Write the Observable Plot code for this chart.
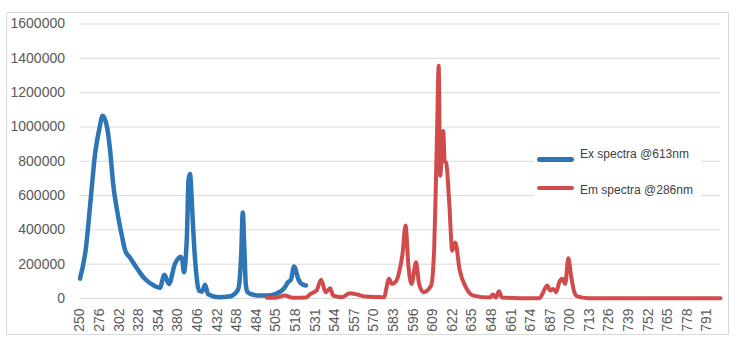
<!DOCTYPE html>
<html>
<head>
<meta charset="utf-8">
<script src="https://cdn.jsdelivr.net/npm/d3@7"></script>
<script src="https://cdn.jsdelivr.net/npm/@observablehq/plot@0.6"></script>
<style>
  body { margin: 0; background: #fff; }
  #wrap { position: relative; width: 740px; height: 352px; overflow: hidden; font-family: "Liberation Sans", Arial, sans-serif; }
  #frame { position: absolute; left: 6px; top: 12px; width: 723px; height: 323px; border: 1px solid #d9d9d9; box-sizing: border-box; }
  #chart { position: absolute; left: 0; top: 0; }
  #legend { position: absolute; left: 534px; top: 141px; width: 167px; height: 64px; background: #fff; }
  .sw { position: absolute; left: 3px; width: 37px; border-radius: 3px; }
  .lt { position: absolute; left: 46px; font-size: 12px; line-height: 14px; color: #404040; white-space: nowrap; }
</style>
</head>
<body>
<div id="wrap">
  <div id="frame"></div>
  <div id="chart"></div>
  <div id="legend">
    <div class="sw" id="sw-ex" style="top:15.5px;height:5px;"></div>
    <div class="lt" id="lt-ex" style="top:6px;"></div>
    <div class="sw" id="sw-em" style="top:45px;height:4px;"></div>
    <div class="lt" id="lt-em" style="top:41.5px;"></div>
  </div>
</div>
<script>
// Category axis: 250..500 in steps of 2, then 501..800 in steps of 1
const tickLabels = [250, 276, 302, 328, 354, 380, 406, 432, 458, 484, 505, 518, 531, 544, 557, 570, 583, 596, 609, 622, 635, 648, 661, 674, 687, 700, 713, 726, 739, 752, 765, 778, 791];
const seriesNames = ["Ex spectra @613nm", "Em spectra @286nm"];
const seriesColors = ["#2E75B6", "#D24B4B"];

// Ex spectrum (category label, intensity)
const exWave  = [250, 258, 264, 270, 276, 280, 286, 290, 294, 300, 306, 310, 316, 326, 336, 348, 356, 362, 368, 376, 384, 386, 388, 390, 392, 394, 396, 398, 400, 402, 404, 406, 408, 412, 416, 420, 434, 448, 456, 460, 464, 466, 468, 470, 472, 476, 488, 498, 505, 511, 513, 515, 517, 520, 522, 525];
const exValue = [116000, 299000, 570000, 843000, 997000, 1065000, 997000, 861000, 667000, 493000, 357000, 279000, 240000, 173000, 115000, 76000, 62000, 138000, 85000, 202000, 244000, 215000, 153000, 220000, 376000, 690000, 725000, 600000, 420000, 270000, 160000, 80000, 45000, 40000, 80000, 25000, 8000, 12000, 30000, 55000, 260000, 502000, 300000, 85000, 40000, 27000, 17000, 17000, 27000, 66000, 95000, 110000, 186000, 110000, 85000, 76000];

// Em spectrum (category label, intensity)
const emWave  = [498, 505, 511, 516, 525, 528, 532, 535, 538, 541, 543, 549, 554, 559, 564, 577, 578, 580, 582, 585, 587, 589, 591, 593, 595, 598, 600, 603, 608, 610, 611, 612, 613, 614, 616, 617, 618, 620, 622, 624, 627, 631, 636, 647, 649, 651, 653, 655, 667, 680, 682, 685, 687, 689, 691, 693, 695, 697, 699, 701, 703, 705, 712, 800];
const emValue = [4000, 5000, 17000, 4000, 6000, 27000, 47000, 109000, 37000, 60000, 17000, 8000, 31000, 23000, 12000, 8000, 47000, 115000, 85000, 105000, 163000, 260000, 425000, 182000, 85000, 211000, 85000, 37000, 76000, 290000, 620000, 1000000, 1356000, 716000, 977000, 800000, 790000, 560000, 279000, 327000, 163000, 66000, 17000, 6000, 23000, 6000, 42000, 6000, 2000, 2000, 30000, 76000, 47000, 56000, 37000, 95000, 115000, 85000, 235000, 124000, 37000, 12000, 2000, 2000];

const yTicks = [0, 200000, 400000, 600000, 800000, 1000000, 1200000, 1400000, 1600000];

const catIndex = w => (w <= 500 ? (w - 250) / 2 : 125 + (w - 500));
const lastIndex = catIndex(800);

const ex = exWave.map((w, i) => ({x: catIndex(w), y: exValue[i]}));
const em = emWave.map((w, i) => ({x: catIndex(w), y: emValue[i]}));
const tickIdx = tickLabels.map(catIndex);
const labelOf = new Map(tickLabels.map(w => [catIndex(w), String(w)]));

const chart = Plot.plot({
  width: 740,
  height: 352,
  marginLeft: 79.5,
  marginRight: 20,
  marginTop: 23.5,
  marginBottom: 54,
  style: {fontFamily: "'Liberation Sans', Arial, sans-serif", fontSize: "14px", color: "#595959", background: "transparent"},
  x: {domain: [0, lastIndex], axis: null},
  y: {domain: [0, 1600000], axis: null},
  marks: [
    Plot.gridY(yTicks, {stroke: "#d9d9d9", strokeOpacity: 1, strokeWidth: 1}),
    Plot.axisY(yTicks, {tickSize: 0, tickPadding: 15, tickFormat: d => String(d), fontSize: 14, label: null}),
    Plot.axisX(tickIdx, {tickSize: 0, tickPadding: 10, tickRotate: -90, tickFormat: i => labelOf.get(i), fontSize: 14, label: null}),
    Plot.line(ex, {x: "x", y: "y", stroke: seriesColors[0], strokeWidth: 4.5, curve: "monotone-x", strokeLinecap: "round", strokeLinejoin: "round"}),
    Plot.line(em, {x: "x", y: "y", stroke: seriesColors[1], strokeWidth: 4, curve: "monotone-x", strokeLinecap: "round", strokeLinejoin: "round"})
  ]
});
document.getElementById("chart").appendChild(chart);

document.getElementById("sw-ex").style.background = seriesColors[0];
document.getElementById("sw-em").style.background = seriesColors[1];
document.getElementById("lt-ex").textContent = seriesNames[0];
document.getElementById("lt-em").textContent = seriesNames[1];
</script>
</body>
</html>
